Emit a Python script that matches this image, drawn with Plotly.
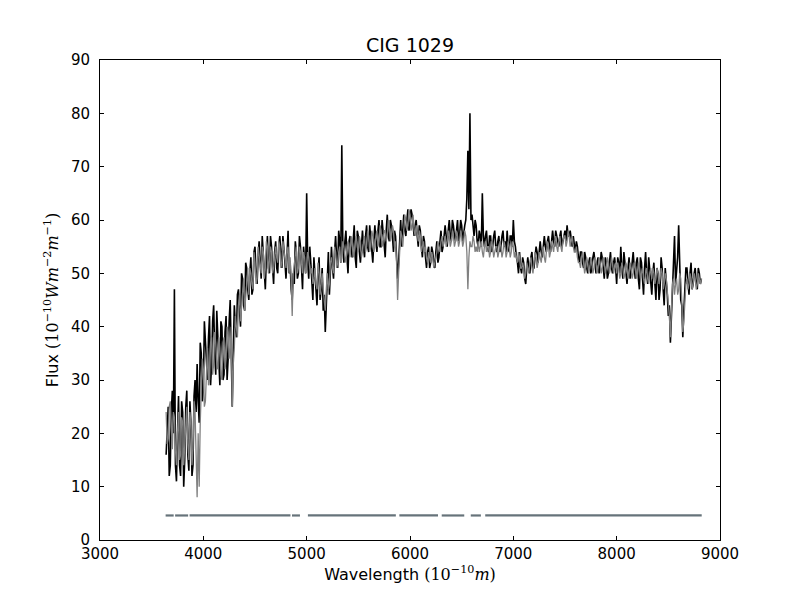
import numpy as np
import plotly.graph_objects as go

# wavelength grid of the spectrum (Angstrom): main samples and the in-between ones
wave = np.arange(3640, 8821, 20)
wave_mid = np.arange(3650, 8811, 20)

flux_obs = [
    16, 25, 14, 28, 47,
    11, 27, 12, 24, 15,
    28, 13, 22, 14, 30,
    33, 22, 35, 28, 38,
    30, 42, 33, 44, 31,
    38, 29, 40, 31, 42,
    34, 45, 25, 44, 38,
    47, 40, 49, 43, 51,
    45, 53, 47, 55, 48,
    56, 49, 54, 47, 57,
    50, 55, 48, 56, 50,
    57, 51, 55, 49, 58,
    52, 45, 48, 54, 50,
    55, 47, 53, 65, 49,
    52, 45, 50, 44, 53,
    47, 43, 39, 50, 46,
    55, 49, 57, 51, 56,
    74, 52, 58, 50, 57,
    53, 59, 51, 57, 52,
    58, 53, 59, 54, 57,
    52, 59, 54, 60, 55,
    58, 53, 61, 56, 59,
    54, 57, 49, 58, 55,
    61, 57, 62, 59, 61,
    57, 60, 55, 58, 53,
    56, 51, 55, 52, 54,
    51, 56, 53, 58, 55,
    59, 55, 60, 56, 59,
    56, 60, 57, 59, 58,
    60, 73, 80, 61, 57,
    59, 55, 57, 65, 55,
    58, 54, 57, 55, 58,
    54, 57, 55, 58, 56,
    58, 54, 57, 60, 55,
    52, 54, 50, 52, 48,
    53, 50, 54, 51, 55,
    52, 56, 53, 57, 54,
    57, 54, 58, 55, 57,
    55, 58, 56, 58, 59,
    57, 56, 57, 54, 55,
    52, 54, 51, 53, 50,
    53, 51, 54, 50, 53,
    51, 53, 49, 52, 50,
    54, 50, 53, 48, 52,
    55, 49, 52, 48, 53,
    50, 54, 49, 53, 47,
    52, 46, 54, 48, 51,
    46, 52, 45, 50, 47,
    51, 44, 49, 42, 37,
    47, 57, 51, 59, 45,
    38, 47, 51, 46, 52,
    48, 51, 47, 50, 49,
]

# observed flux at the in-between samples (3650, 3670, ...)
flux_obs_mid = [
    22, 12, 24, 20, 14,
    20, 14, 26, 10, 25,
    16, 26, 12, 27, 24,
    26, 37, 26, 41, 35,
    38, 29, 41, 35, 43,
    33, 41, 30, 39, 30,
    41, 35, 36, 40, 46,
    43, 50, 44, 52, 47,
    50, 46, 54, 50, 53,
    52, 57, 50, 53, 51,
    57, 51, 54, 51, 55,
    54, 57, 52, 55, 50,
    47, 50, 56, 49, 57,
    51, 55, 50, 52, 55,
    48, 53, 46, 50, 45,
    51, 46, 44, 54, 51,
    51, 54, 53, 58, 52,
    55, 56, 53, 56, 55,
    56, 53, 58, 54, 55,
    55, 57, 55, 59, 55,
    56, 56, 58, 55, 60,
    56, 58, 57, 60, 57,
    58, 53, 52, 60, 58,
    58, 60, 58, 62, 59,
    59, 57, 59, 55, 57,
    53, 54, 51, 55, 52,
    54, 52, 56, 54, 57,
    57, 58, 57, 60, 57,
    58, 56, 60, 56, 59,
    64, 62, 60, 58, 60,
    56, 58, 55, 57, 57,
    55, 57, 54, 57, 55,
    56, 54, 57, 55, 54,
    55, 57, 55, 56, 53,
    50, 51, 53, 49, 51,
    51, 53, 51, 53, 54,
    54, 54, 55, 55, 56,
    55, 56, 56, 58, 56,
    57, 55, 57, 56, 57,
    58, 55, 55, 56, 53,
    54, 52, 54, 51, 52,
    50, 53, 52, 52, 50,
    54, 51, 53, 49, 52,
    51, 52, 51, 53, 50,
    51, 54, 50, 51, 49,
    52, 51, 52, 49, 53,
    49, 51, 50, 53, 48,
    50, 48, 51, 45, 53,
    47, 51, 46, 44, 41,
    52, 48, 53, 50, 44,
    43, 51, 48, 50, 47,
    50, 48, 51, 48,
]

# synthetic (model) flux, grey, on the main grid
flux_syn = [
    24, 19, 26, 17, 23,
    14, 24, 16, 22, 18,
    25, 15, 22, 17, 24,
    8, 10, 27, 32, 26,
    36, 30, 38, 33, 37,
    32, 36, 30, 38, 34,
    39, 36, 25, 36, 40,
    44, 41, 46, 43, 48,
    46, 50, 47, 52, 49,
    53, 50, 54, 51, 55,
    52, 54, 51, 55, 52,
    55, 52, 54, 51, 55,
    53, 42, 52, 55, 51,
    54, 50, 53, 51, 53,
    50, 48, 51, 47, 50,
    49, 47, 43, 50, 48,
    53, 50, 54, 52, 55,
    53, 55, 52, 56, 53,
    56, 54, 57, 54, 56,
    54, 57, 55, 57, 55,
    57, 55, 58, 56, 58,
    56, 58, 57, 59, 57,
    58, 56, 45, 55, 57,
    58, 60, 59, 61, 59,
    58, 59, 56, 57, 55,
    54, 53, 54, 52, 53,
    52, 54, 55, 56, 55,
    57, 56, 57, 56, 57,
    56, 57, 56, 57, 56,
    57, 47, 56, 55, 56,
    55, 56, 55, 54, 55,
    54, 55, 54, 55, 54,
    55, 54, 55, 54, 55,
    54, 55, 54, 55, 54,
    52, 53, 51, 51, 50,
    51, 52, 51, 52, 53,
    52, 53, 54, 53, 54,
    55, 54, 55, 56, 55,
    56, 55, 56, 57, 56,
    57, 56, 55, 54, 53,
    52, 53, 52, 51, 52,
    51, 52, 51, 52, 51,
    52, 51, 52, 51, 52,
    51, 52, 51, 50, 51,
    50, 51, 50, 51, 50,
    51, 50, 51, 50, 51,
    50, 49, 50, 49, 50,
    49, 50, 49, 50, 49,
    50, 48, 49, 45, 38,
    48, 46, 49, 47, 49,
    39, 46, 49, 48, 49,
    48, 49, 48, 49, 49,
]

# synthetic flux at the in-between samples
flux_syn_mid = [
    18, 25, 19, 24, 17,
    20, 15, 23, 14, 21,
    18, 24, 14, 26, 16,
    20, 22, 34, 25, 33,
    29, 37, 31, 39, 33,
    38, 31, 37, 32, 40,
    34, 40, 33, 42, 38,
    46, 44, 49, 45, 51,
    51, 48, 54, 48, 55,
    51, 55, 49, 56, 50,
    55, 50, 54, 53, 56,
    51, 56, 52, 54, 50,
    49, 50, 53, 50, 55,
    52, 54, 50, 54, 51,
    51, 49, 48, 52, 46,
    50, 45, 47, 47, 52,
    51, 55, 51, 54, 52,
    56, 53, 55, 54, 57,
    53, 56, 55, 57, 53,
    56, 54, 58, 54, 58,
    54, 57, 55, 59, 55,
    58, 56, 60, 56, 59,
    55, 52, 50, 58, 55,
    61, 58, 62, 58, 61,
    57, 57, 58, 54, 56,
    55, 52, 53, 54, 51,
    53, 56, 54, 57, 56,
    55, 58, 55, 58, 55,
    58, 55, 58, 55, 58,
    54, 53, 55, 57, 54,
    54, 54, 56, 53, 56,
    55, 53, 56, 53, 55,
    53, 56, 53, 56, 53,
    56, 53, 56, 53, 53,
    54, 51, 52, 49, 52,
    50, 53, 50, 54, 51,
    54, 52, 55, 52, 56,
    53, 56, 54, 57, 54,
    57, 54, 57, 55, 58,
    55, 57, 54, 55, 52,
    51, 54, 50, 53, 50,
    53, 50, 53, 50, 53,
    50, 53, 50, 53, 50,
    53, 50, 52, 52, 49,
    52, 49, 52, 49, 52,
    49, 52, 49, 52, 49,
    51, 48, 51, 48, 51,
    51, 48, 51, 48, 51,
    47, 50, 47, 42, 43,
    49, 48, 46, 50, 45,
    41, 48, 47, 50, 47,
    50, 47, 50, 48,
]

# fitted-region mask segments (start, end in Angstrom)
mask_start = [3635, 3727, 3867, 4858, 5012, 5897, 6307, 6588, 6728]
mask_end = [3713, 3853, 4843, 4935, 5863, 6271, 6525, 6686, 8823]
mask_level = 4.6


def merge(x_a, y_a, x_b, y_b):
    # join two sample grids into one sorted spectrum
    x = np.concatenate([x_a, x_b])
    y = np.concatenate([y_a, y_b])
    order = np.argsort(x)
    return x[order], y[order]


obs_x, obs_y = merge(wave, flux_obs, wave_mid, flux_obs_mid)
syn_x, syn_y = merge(wave, flux_syn, wave_mid, flux_syn_mid)

# build the mask line with gaps between segments
mask_x, mask_y = [], []
for a, b in zip(mask_start, mask_end):
    mask_x += [a, b, None]
    mask_y += [mask_level, mask_level, None]

fig = go.Figure()

fig.add_trace(go.Scatter(x=mask_x, y=mask_y, mode="lines",
                         line=dict(color="#66737a", width=2.2),
                         showlegend=False))

fig.add_trace(go.Scatter(x=obs_x, y=obs_y, mode="lines",
                         line=dict(color="black", width=1.6),
                         showlegend=False))

fig.add_trace(go.Scatter(x=syn_x, y=syn_y, mode="lines",
                         line=dict(color="#808080", width=1.3),
                         showlegend=False))

math = "font-family:'DejaVu Serif'"
xlabel = ("Wavelength <span style=\"%s\">(10<sup>\u221210</sup><i>m</i>)</span>" % math)
ylabel = ("Flux <span style=\"%s\">(10<sup>\u221210</sup><i>Wm</i><sup>\u22122</sup>"
          "<i>m</i><sup>\u22121</sup>)</span>" % math)

axis_style = dict(showline=True, linecolor="black", linewidth=1, mirror="ticks",
                  ticks="inside", ticklen=4, tickcolor="black", showgrid=False,
                  zeroline=False, tickfont=dict(size=15, color="black"))

# the page is drawn 8px in from the top-left, margins account for that
fig.update_layout(
    width=800, height=600,
    margin=dict(l=92, r=88, t=52, b=68),
    paper_bgcolor="white", plot_bgcolor="white",
    font=dict(family="DejaVu Sans", color="black"),
    title=dict(text="CIG 1029", x=(410 - 8) / 800, xanchor="center",
               y=1 - 37 / 600, yanchor="middle", font=dict(size=19)),
    xaxis=dict(range=[3000, 9000], dtick=1000,
               title=dict(text=xlabel, font=dict(size=16), standoff=6),
               **axis_style),
    yaxis=dict(range=[0, 90], dtick=10, ticklabelstandoff=6,
               title=dict(text=ylabel, font=dict(size=16), standoff=8),
               **axis_style),
)

fig.write_html("out.html")
